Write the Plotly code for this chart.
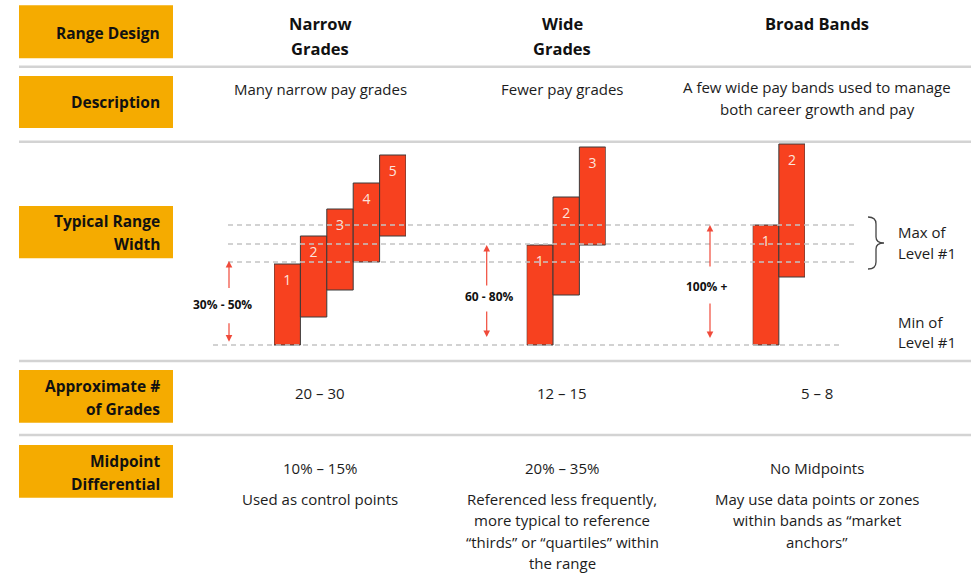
import plotly.graph_objects as go

# ---------------------------------------------------------------------------
# Data
# ---------------------------------------------------------------------------
designs = ["Narrow<br>Grades", "Wide<br>Grades", "Broad Bands"]
descriptions = [
    "Many narrow pay grades",
    "Fewer pay grades",
    "A few wide pay bands used to manage<br>both career growth and pay",
]
range_widths = ["30% - 50%", "60 - 80%", "100% +"]
grade_counts = ["20 – 30", "12 – 15", "5 – 8"]
midpoint_diffs = ["10% – 15%", "20% – 35%", "No Midpoints"]
midpoint_notes = [
    ["Used as control points"],
    ["Referenced less frequently,", "more typical to reference",
     "“thirds” or “quartiles” within", "the range"],
    ["May use data points or zones", "within bands as “market", "anchors”"],
]
row_labels = ["Range Design", "Description", "Typical Range<br>Width",
              "Approximate #<br>of Grades", "Midpoint<br>Differential"]

# Pay ranges per grade (relative pay index, min of Level #1 = 0)
narrow_grades = [1, 2, 3, 4, 5]
narrow_low = [0, 28, 55, 83, 109]
narrow_high = [81, 109, 136, 162, 190]

wide_grades = [1, 2, 3]
wide_low = [0, 50, 100]
wide_high = [100, 148, 198]

broad_grades = [1, 2]
broad_low = [0, 68]
broad_high = [120, 201]

# Max of Level #1 for each design, and the shared minimum
level1_max = [83, 101, 120]
level1_min = 0

# ---------------------------------------------------------------------------
# Styling / layout helpers
# ---------------------------------------------------------------------------
W, H = 971, 576
FONT = "Open Sans"
ORANGE = "#F5AB00"
BAR = "#F7411F"
ARROW = "#F04A3A"
INK = "#111111"
TEXT = "#1c1c1c"
BODY = 15


def px(x):
    return x / W


def py(y):
    return 1 - y / H


fig = go.Figure()

# Floating bars, one x-axis per design, sharing the pay-index y-axis
groups = [
    ("x", narrow_grades, narrow_low, narrow_high),
    ("x2", wide_grades, wide_low, wide_high),
    ("x3", broad_grades, broad_low, broad_high),
]
for xa, grades, lows, highs in groups:
    fig.add_trace(go.Bar(
        x=grades,
        y=[h - l for l, h in zip(lows, highs)],
        base=lows,
        width=1,
        marker=dict(color=BAR, line=dict(color="#3a3a3a", width=1)),
        xaxis=xa, yaxis="y",
        hoverinfo="skip", showlegend=False,
    ))
    fig.add_trace(go.Scatter(
        x=grades,
        y=[h - 17 for h in highs],
        text=[str(g) for g in grades],
        mode="text",
        textfont=dict(family=FONT, size=14, color="#FDE4DC"),
        xaxis=xa, yaxis="y",
        hoverinfo="skip", showlegend=False,
    ))

hidden = dict(visible=False, showgrid=False, zeroline=False, fixedrange=True)
fig.update_layout(
    width=W, height=H,
    margin=dict(l=0, r=0, t=0, b=0),
    paper_bgcolor="white", plot_bgcolor="rgba(0,0,0,0)",
    barmode="overlay",
    xaxis=dict(domain=[px(274), px(406)], range=[0.5, 5.5], anchor="y", **hidden),
    xaxis2=dict(domain=[px(526.7), px(605.7)], range=[0.5, 3.5], anchor="y", **hidden),
    xaxis3=dict(domain=[px(752.7), px(805)], range=[0.5, 2.5], anchor="y", **hidden),
    yaxis=dict(domain=[py(361), py(141)], range=[-16, 204], **hidden),
)

shapes = []
annotations = []

# Orange row-label boxes
box_rows = [(5.3, 58.3), (76, 128), (206, 258.3), (370, 422.7), (445, 497.7)]
label_y = [33, 102, 232.5, 397, 472]
for (y0, y1), lab, ly in zip(box_rows, row_labels, label_y):
    shapes.append(dict(type="rect", xref="paper", yref="paper",
                       x0=px(19), x1=px(173), y0=py(y1), y1=py(y0),
                       fillcolor=ORANGE, line=dict(width=0), layer="below"))
    lines = lab.split("<br>")
    start = ly - 11.5 * (len(lines) - 1)
    for i, line in enumerate(lines):
        annotations.append(dict(xref="paper", yref="paper", x=px(162),
                                y=py(start + 23 * i),
                                text=f"<b>{line}</b>", showarrow=False,
                                xanchor="right", yanchor="middle", align="right",
                                font=dict(family=FONT, size=15.5, color=INK)))

# Row separators
for sy in [66.7, 141.7, 361, 435]:
    shapes.append(dict(type="line", xref="paper", yref="paper",
                       x0=px(19), x1=1, y0=py(sy), y1=py(sy),
                       line=dict(color="#D3D3D3", width=2.5), layer="below"))

# Level #1 reference lines
for v in level1_max:
    shapes.append(dict(type="line", xref="paper", yref="y",
                       x0=px(228), x1=px(857), y0=v, y1=v,
                       line=dict(color="#C4C4C4", width=1.5, dash="5px,4px"),
                       layer="above"))
shapes.append(dict(type="line", xref="paper", yref="y",
                   x0=px(213), x1=px(842), y0=level1_min, y1=level1_min,
                   line=dict(color="#C4C4C4", width=1.5, dash="5px,4px"),
                   layer="above"))

# Curly brace for "Max of Level #1"
bx, top, bot, tip = 868, 217, 269, 884
mid = (top + bot) / 2
path = (
    f"M {px(bx)},{py(top)} "
    f"Q {px(bx + 8)},{py(top)} {px(bx + 8)},{py(top + 7)} "
    f"L {px(bx + 8)},{py(mid - 6)} "
    f"Q {px(bx + 8)},{py(mid)} {px(tip)},{py(mid)} "
    f"Q {px(bx + 8)},{py(mid)} {px(bx + 8)},{py(mid + 6)} "
    f"L {px(bx + 8)},{py(bot - 7)} "
    f"Q {px(bx + 8)},{py(bot)} {px(bx)},{py(bot)}"
)
shapes.append(dict(type="path", xref="paper", yref="paper", path=path,
                   line=dict(color="#444444", width=1.3)))

for txt, ty in [("Max of", 231.7), ("Level #1", 253), ("Min of", 321.7), ("Level #1", 342)]:
    annotations.append(dict(xref="paper", yref="paper", x=px(896), y=py(ty),
                            text=txt, showarrow=False, xanchor="left",
                            yanchor="middle",
                            font=dict(family=FONT, size=BODY, color=TEXT)))

# Range-width arrows and labels
arrow_specs = [
    # x, up-tip value, up tail offset, down-tip value, down tail offset, label x, label y
    (229, level1_max[0] + 1, 28.6, 3.3, -20, 222.7, 304.3),
    (486.7, wide_high[0], 42, 8, -27, 490, 296.7),
    (710, broad_high[0], 43, 7, -36, 706.7, 286.7),
]
for (ax_, up_v, up_off, dn_v, dn_off, lx, ly), lab in zip(arrow_specs, range_widths):
    for tipv, off in [(up_v, up_off), (dn_v, dn_off)]:
        annotations.append(dict(xref="paper", yref="y", x=px(ax_), y=tipv,
                                ax=0, ay=off, text="", showarrow=True,
                                arrowhead=2, arrowsize=1.1, arrowwidth=1.2,
                                arrowcolor=ARROW))
    annotations.append(dict(xref="paper", yref="paper", x=px(lx), y=py(ly),
                            text=f"<b>{lab}</b>", showarrow=False,
                            xanchor="center", yanchor="middle",
                            font=dict(family=FONT, size=12, color=INK)))

# Column texts
col_x = [320, 562, 817]
for cx, head, desc, cnt, md, notes in zip(col_x, designs, descriptions,
                                          grade_counts, midpoint_diffs, midpoint_notes):
    for i, line in enumerate(head.split("<br>")):
        annotations.append(dict(xref="paper", yref="paper", x=px(cx),
                                y=py(23 + 25 * i), text=f"<b>{line}</b>",
                                showarrow=False, xanchor="center", yanchor="middle",
                                font=dict(family=FONT, size=16.5, color=INK)))
    dlines = desc.split("<br>")
    d0 = 89 if len(dlines) == 1 else 87
    for i, line in enumerate(dlines):
        annotations.append(dict(xref="paper", yref="paper", x=px(cx),
                                y=py(d0 + 22 * i), text=line,
                                showarrow=False, xanchor="center", yanchor="middle",
                                font=dict(family=FONT, size=BODY, color=TEXT)))
    annotations.append(dict(xref="paper", yref="paper", x=px(cx), y=py(393),
                            text=cnt, showarrow=False, xanchor="center",
                            yanchor="middle",
                            font=dict(family=FONT, size=BODY, color=TEXT)))
    annotations.append(dict(xref="paper", yref="paper", x=px(cx), y=py(468),
                            text=md, showarrow=False, xanchor="center",
                            yanchor="middle",
                            font=dict(family=FONT, size=BODY, color=TEXT)))
    for i, line in enumerate(notes):
        annotations.append(dict(xref="paper", yref="paper", x=px(cx),
                                y=py(499 + 21.4 * i), text=line,
                                showarrow=False, xanchor="center", yanchor="middle",
                                font=dict(family=FONT, size=BODY, color=TEXT)))

fig.update_layout(shapes=shapes, annotations=annotations)

fig.write_html("out.html")
